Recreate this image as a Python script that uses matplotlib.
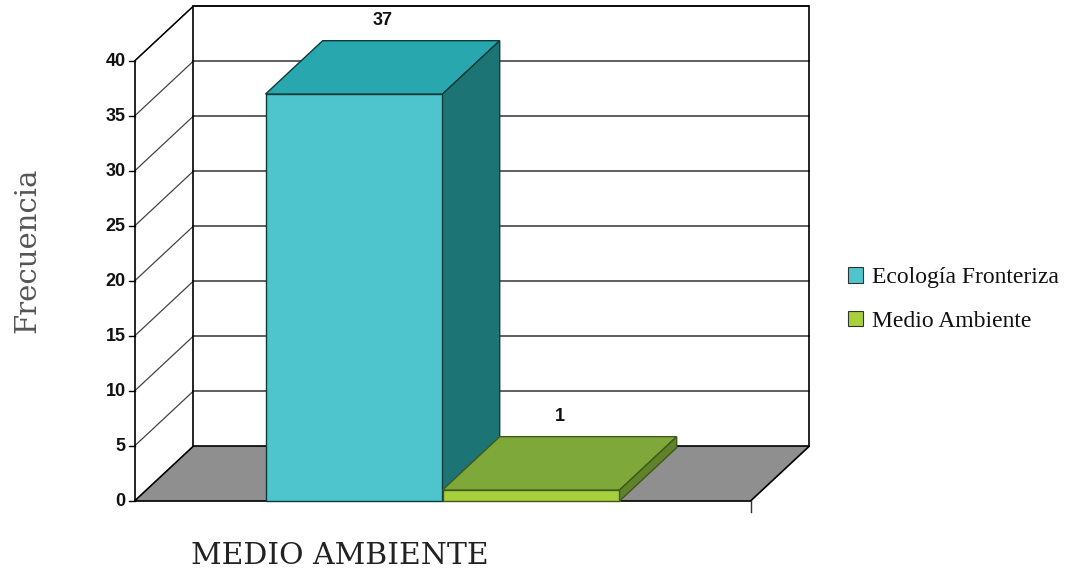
import matplotlib
matplotlib.use("Agg")
import matplotlib.pyplot as plt
from matplotlib.patches import Polygon, Patch

categories = ["MEDIO AMBIENTE"]
series = ["Ecología Fronteriza", "Medio Ambiente"]
values = [37, 1]
yticks = [0, 5, 10, 15, 20, 25, 30, 35, 40]

front_cols = ["#4EC5CC", "#A8CF3C"]
top_cols = ["#28A8AE", "#7FA83A"]
side_cols = ["#1C7474", "#5F822B"]

fig = plt.figure(figsize=(10.78, 5.78), dpi=100)
ax = fig.add_axes([0, 0, 1, 1])
ax.set_xlim(-2.5, 3.59)
ax.set_ylim(-7.0, 45.55)
ax.axis("off")

DX, DY = 0.333, 5.0       # depth offset of the 3D box
FL, FR = -1.74, 1.74      # floor front left / right
YMAX = 40

# floor
ax.add_patch(Polygon([(FL, 0), (FR, 0), (FR + DX, DY), (FL + DX, DY)],
                     closed=True, facecolor="#8F8F8F", edgecolor="black", lw=1.2, zorder=1))
# back wall gridlines
for t in yticks:
    if t == 0:
        continue
    ax.plot([FL + DX, FR + DX], [t + DY, t + DY], color="#444444", lw=1.2, zorder=0.5)
# side wall diagonals
for t in yticks:
    if t == 0:
        continue
    ax.plot([FL, FL + DX], [t, t + DY], color="#444444", lw=0.9, zorder=0.5)
# back wall frame
ax.plot([FL + DX, FL + DX, FR + DX, FR + DX], [DY, YMAX + DY, YMAX + DY, DY],
        color="black", lw=1.2, zorder=0.6)
ax.plot([FL, FL + DX], [YMAX, YMAX + DY], color="black", lw=1.0, zorder=0.6)
# front axis
ax.plot([FL, FL], [0, YMAX], color="black", lw=1.2, zorder=5)
for t in yticks:
    ax.plot([FL - 0.03, FL], [t, t], color="black", lw=1.0, zorder=5)
    ax.text(FL - 0.05, t, str(t), ha="right", va="center", fontsize=13,
            fontweight="bold", family="Liberation Sans", color="#111111")
ax.plot([FR, FR], [0, -1.0], color="#333333", lw=1.0)

# bars
bw = 1.0
bdx, bdy = DX * 0.97, DY * 0.97
for i, (v, s) in enumerate(zip(values, series)):
    x0 = -1.0 + i * bw
    ec = "#0E3A3A" if i == 0 else "#3F5A1A"
    ax.bar(x0, v, width=bw, align="edge", color=front_cols[i],
           edgecolor=ec, lw=1.0, zorder=3 + i)
    ax.add_patch(Polygon([(x0, v), (x0 + bw, v), (x0 + bw + bdx, v + bdy), (x0 + bdx, v + bdy)],
                         closed=True, facecolor=top_cols[i], edgecolor=ec, lw=1.0, zorder=3 + i))
    ax.add_patch(Polygon([(x0 + bw, 0), (x0 + bw + bdx, bdy), (x0 + bw + bdx, v + bdy), (x0 + bw, v)],
                         closed=True, facecolor=side_cols[i], edgecolor=ec, lw=1.0, zorder=3 + i))
    ax.text(x0 + bw / 2 + bdx / 2, v + bdy + 1.1, str(v), ha="center", va="bottom",
            fontsize=13, fontweight="bold", family="Liberation Sans", color="#111111")

ax.text(-2.345, 22.8, "Frecuencia", rotation=90, ha="center", va="center",
        fontsize=21, family="DejaVu Serif", color="#555555")
ax.text(-0.58, -5.0, categories[0], ha="center", va="center",
        fontsize=21.5, family="DejaVu Serif", color="#222222")

handles = [Patch(facecolor=front_cols[i], edgecolor="#333333", lw=0.8) for i in range(2)]
leg = fig.legend(handles, series, loc="upper left", bbox_to_anchor=(0.767, 0.575),
                 frameon=False, handlelength=0.65, handleheight=0.65, handletextpad=0.35,
                 labelspacing=0.95, prop={"family": "Liberation Serif", "size": 17})
for t in leg.get_texts():
    t.set_color("#111111")

fig.savefig("out.png", dpi=100)
